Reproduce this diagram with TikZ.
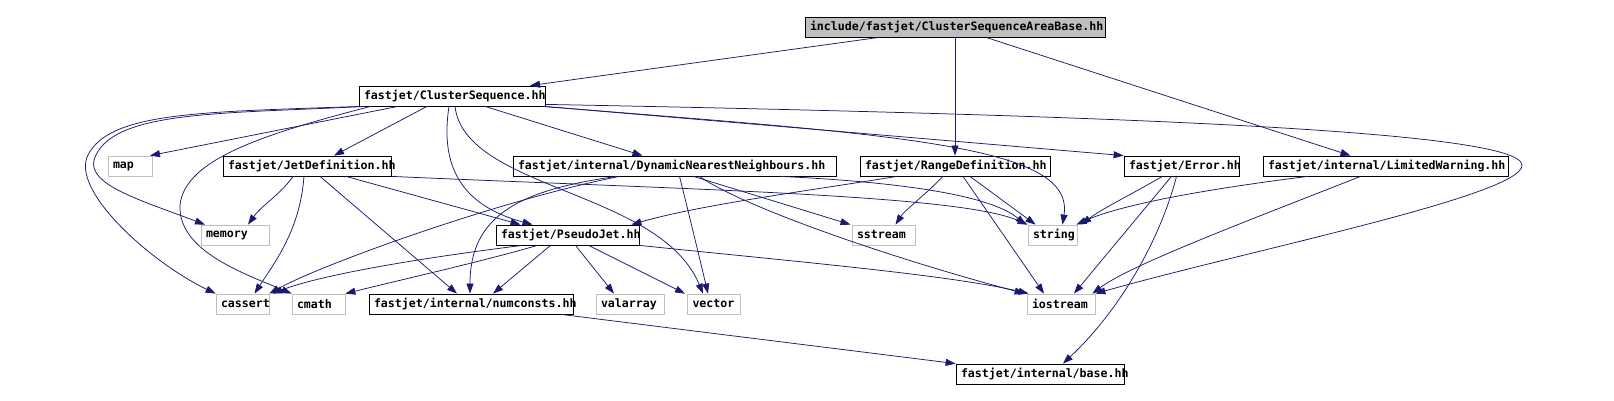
\documentclass[tikz,border=0pt]{standalone}
\usepackage{fontspec}
\usepackage{xcolor}
\newfontfamily\graphfont{DejaVu Sans Mono}
\usetikzlibrary{arrows.meta}
\definecolor{edgeblue}{HTML}{191970}
\definecolor{boxgray}{HTML}{BFBFBF}

\begin{document}
\begin{tikzpicture}[x=1pt,y=-1pt,
    file/.style={draw=black, fill=white, line width=0.8pt, minimum height=20pt,
      inner xsep=5pt, inner ysep=0pt, align=left,
      font=\graphfont\bfseries\fontsize{11.6}{12}\selectfont},
    sysfile/.style={file, draw=boxgray},
    rootfile/.style={file, fill=boxgray},
    dep/.style={draw=edgeblue, line width=0.75pt, -{Triangle[length=10pt,width=7pt]}}]
  \useasboundingbox (0,0) rectangle (1614,401);

  % top
  \node[rootfile, text width=290pt] (root) at (955,27) {include/fastjet/ClusterSequenceAreaBase.hh};
  \node[file, text width=176pt] (cs) at (452,96) {fastjet/ClusterSequence.hh};

  % second row
  \node[sysfile, text width=34pt] (map) at (130,166) {map};
  \node[file, text width=158pt] (jet) at (307,166) {fastjet/JetDefinition.hh};
  \node[file, text width=313pt] (dnn) at (674.5,166) {fastjet/internal/DynamicNearestNeighbours.hh};
  \node[file, text width=180pt] (range) at (955,166) {fastjet/RangeDefinition.hh};
  \node[file, text width=105pt] (error) at (1181.5,166) {fastjet/Error.hh};
  \node[file, text width=235pt] (lw) at (1385.5,166) {fastjet/internal/LimitedWarning.hh};

  % third row
  \node[sysfile, text width=58pt] (memory) at (235,235) {memory};
  \node[file, text width=133pt] (pseudo) at (567.5,235) {fastjet/PseudoJet.hh};
  \node[sysfile, text width=53pt] (sstream) at (883.5,235) {sstream};
  \node[sysfile, text width=39pt] (string) at (1052.5,235) {string};

  % fourth row
  \node[sysfile, text width=43pt] (cassert) at (242.5,304) {cassert};
  \node[sysfile, text width=43pt] (cmath) at (318.5,304) {cmath};
  \node[file, text width=194pt] (num) at (471,304) {fastjet/internal/numconsts.hh};
  \node[sysfile, text width=58pt] (valarray) at (630,304) {valarray};
  \node[sysfile, text width=43pt] (vector) at (714,304) {vector};
  \node[sysfile, text width=58pt] (iostream) at (1061,304) {iostream};

  % bottom
  \node[file, text width=158pt] (base) at (1040,374) {fastjet/internal/base.hh};

  % from the root
  \draw[dep] ([xshift=-76pt]root.south) -- ([xshift=78pt]cs.north);
  \draw[dep] (root.south) -- (range.north);
  \draw[dep] ([xshift=31pt]root.south) -- ([xshift=-35pt]lw.north);

  % ClusterSequence.hh
  \draw[dep] ([xshift=-54pt]cs.south) -- ([xshift=20pt]map.north);
  \draw[dep] ([xshift=-25pt]cs.south) -- ([xshift=27pt]jet.north);
  \draw[dep] ([xshift=33pt]cs.south) -- ([xshift=-32pt]dnn.north);
  \draw[dep] ([xshift=3pt]cs.south west) .. controls (200,112) and (110,112) .. (88,155)
    .. controls (70,190) and (150,262) .. (cassert.north west);
  \draw[dep] ([xshift=7pt]cs.south west) .. controls (220,114) and (110,110) .. (94,160)
    .. controls (88,185) and (140,200) .. ([xshift=-30pt]memory.north);
  \draw[dep] ([xshift=12pt]cs.south west) .. controls (260,135) and (185,160) .. (180,205)
    .. controls (178,250) and (240,272) .. (cmath.north west);
  \draw[dep] ([xshift=-3pt]cs.south) .. controls (440,165) and (460,205) .. ([xshift=-35pt]pseudo.north);
  \draw[dep] ([xshift=3pt]cs.south) .. controls (465,190) and (660,190) .. ([xshift=-11pt]vector.north);
  \draw[dep] ([xshift=-3pt]cs.south east) .. controls (900,135) and (1075,145) .. ([xshift=10pt]string.north);
  \draw[dep] ([xshift=-1pt]cs.south east) -- (error.north west);
  \draw[dep] ([yshift=2pt]cs.south east) .. controls (1100,115) and (1520,130) .. (1522,165)
    .. controls (1524,195) and (1250,250) .. (iostream.north east);

  % JetDefinition.hh
  \draw[dep] ([xshift=-14pt]jet.south) .. controls (280,195) and (262,205) .. ([xshift=13pt]memory.north);
  \draw[dep] ([xshift=-3pt]jet.south) .. controls (300,230) and (275,262) .. ([xshift=12pt]cassert.north);
  \draw[dep] ([xshift=13pt]jet.south) -- ([xshift=-14pt]num.north);
  \draw[dep] ([xshift=39pt]jet.south) -- ([xshift=-47pt]pseudo.north);
  \draw[dep] (jet.south east) .. controls (700,190) and (960,195) .. (string.north west);

  % DynamicNearestNeighbours.hh
  \draw[dep] ([xshift=-55pt]dnn.south) .. controls (500,200) and (320,265) .. (cassert.north east);
  \draw[dep] ([xshift=-58pt]dnn.south) .. controls (520,190) and (470,215) .. ([xshift=-1pt]num.north);
  \draw[dep] ([xshift=5pt]dnn.south) .. controls (688,210) and (700,260) .. ([xshift=-6pt]vector.north);
  \draw[dep] ([xshift=19pt]dnn.south) -- ([xshift=-33pt]sstream.north);
  \draw[dep] ([xshift=106pt]dnn.south) .. controls (900,182) and (990,195) .. ([xshift=-2pt]string.north west);
  \draw[dep] ([xshift=25pt]dnn.south) .. controls (740,205) and (880,255) .. ([xshift=-2pt]iostream.north west);

  % RangeDefinition.hh
  \draw[dep] ([xshift=-58pt]range.south) .. controls (800,192) and (700,205) .. ([xshift=-8pt]pseudo.north east);
  \draw[dep] ([xshift=-12pt]range.south) .. controls (925,195) and (905,210) .. ([xshift=12pt]sstream.north);
  \draw[dep] ([xshift=8pt]range.south) -- ([xshift=-17pt]iostream.north);
  \draw[dep] ([xshift=15pt]range.south) -- ([xshift=-17pt]string.north);

  % Error.hh
  \draw[dep] ([xshift=-19pt]error.south) .. controls (1130,195) and (1100,210) .. ([xshift=4pt]string.north east);
  \draw[dep] ([xshift=-10pt]error.south) -- ([xshift=13pt]iostream.north);
  \draw[dep] ([xshift=-5pt]error.south) .. controls (1160,240) and (1120,310) .. ([xshift=23pt]base.north);

  % LimitedWarning.hh
  \draw[dep] ([xshift=-78pt]lw.south) .. controls (1200,190) and (1120,205) .. ([xshift=-1pt]string.north east);
  \draw[dep] ([xshift=-25pt]lw.south) .. controls (1250,220) and (1130,265) .. ([xshift=-3pt]iostream.north east);

  % PseudoJet.hh
  \draw[dep] ([xshift=-45pt]pseudo.south) .. controls (420,258) and (320,275) .. ([xshift=3pt]cassert.north east);
  \draw[dep] ([xshift=-30pt]pseudo.south) .. controls (480,262) and (400,280) .. (cmath.north east);
  \draw[dep] ([xshift=-17pt]pseudo.south) -- ([xshift=22pt]num.north);
  \draw[dep] ([xshift=8pt]pseudo.south) -- ([xshift=-16pt]valarray.north);
  \draw[dep] ([xshift=21pt]pseudo.south) -- ([xshift=-29pt]vector.north);
  \draw[dep] (pseudo.south east) .. controls (800,262) and (950,275) .. ([xshift=2pt]iostream.north west);

  % numconsts.hh
  \draw[dep] ([xshift=90pt]num.south) -- (base.north west);
\end{tikzpicture}
\end{document}
